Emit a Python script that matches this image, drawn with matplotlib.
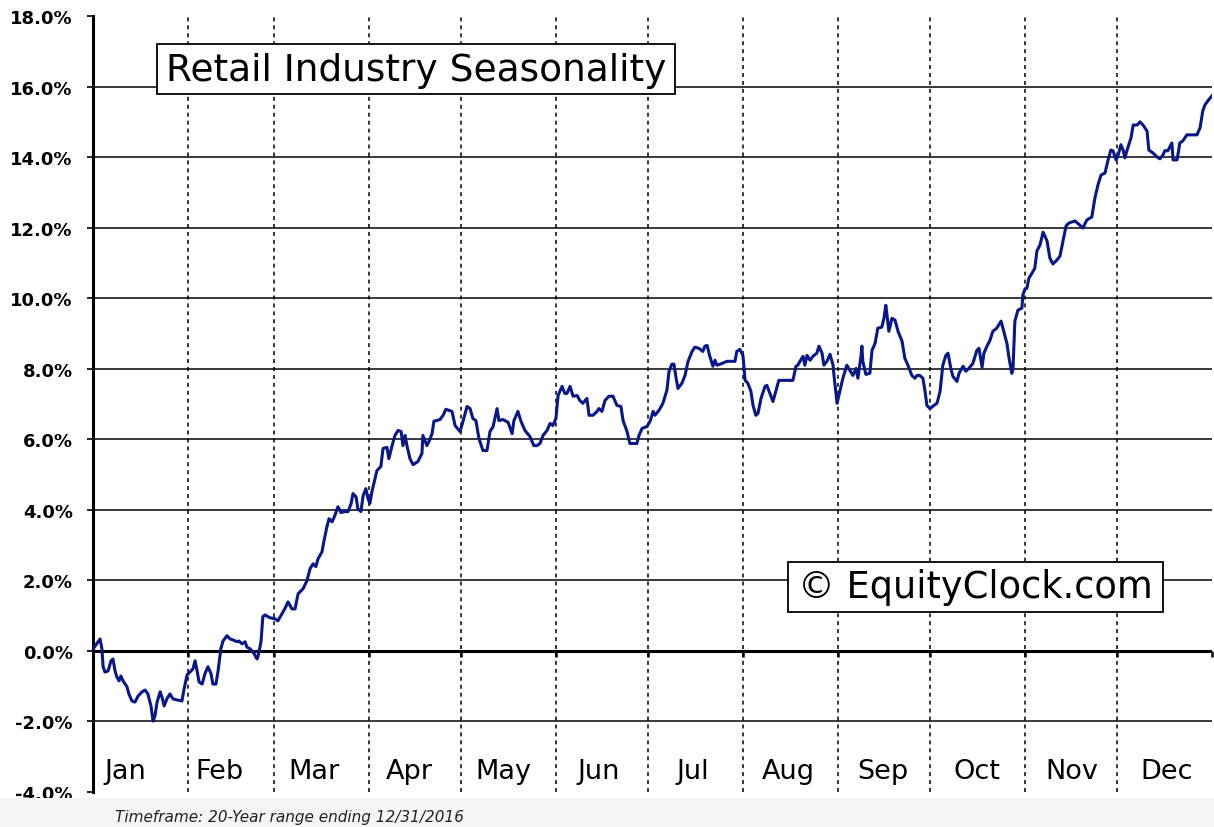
import matplotlib
matplotlib.use("Agg")
import matplotlib.pyplot as plt
from matplotlib.patches import Rectangle
import numpy as np

# ---------------- data ----------------
months = ["Jan", "Feb", "Mar", "Apr", "May", "Jun",
          "Jul", "Aug", "Sep", "Oct", "Nov", "Dec"]
month_days = [31, 28, 31, 30, 31, 30, 31, 31, 30, 31, 30, 31]

# day of year (0 = Jan 1)
day = [0, 2.3, 2.9, 3.3, 3.9, 4.9, 5.9, 6.5, 7.2, 7.8, 8.5, 9.1, 9.8, 11.1, 11.7,
       12.7, 13.7, 14.7, 16.0, 17.0, 17.9, 18.9, 19.6, 20.2, 20.9, 21.9, 22.5,
       23.2, 24.1, 25.1, 26.1, 27.4, 29.0, 29.7, 30.7, 31.6, 32.6, 33.3, 33.9,
       34.6, 35.6, 36.5, 37.5, 38.5, 39.1, 40.1, 40.8, 41.7, 42.4, 43.7, 44.7,
       45.7, 47.0, 47.6, 48.6, 49.6, 50.2, 51.2, 52.2, 53.5, 53.8, 54.8, 55.4,
       56.1, 57.7, 59.4, 60.3, 61.6, 62.6, 63.6, 64.9, 65.9, 66.9, 68.5, 69.8,
       70.8, 71.8, 72.7, 73.4, 74.7, 75.3, 76.3, 77.0, 78.0, 78.9, 79.9, 80.9,
       81.9, 83.2, 84.2, 84.8, 85.8, 86.4, 87.4, 88.1, 89.0, 89.7, 90.3, 91.0,
       92.0, 92.6, 93.9, 94.6, 95.9, 96.5, 97.5, 98.5, 99.5, 100.5, 101.1, 101.8,
       102.4, 103.4, 104.4, 106.0, 107.3, 107.6, 108.9, 109.6, 110.6, 111.2,
       113.2, 114.2, 115.1, 117.1, 118.1, 119.7, 120.7, 122.0, 123.0, 123.9,
       124.9, 125.9, 127.2, 128.5, 129.5, 130.5, 131.8, 132.4, 133.7, 135.4,
       136.7, 137.3, 138.6, 139.6, 140.9, 142.5, 143.8, 144.8, 145.8, 146.8,
       148.1, 149.1, 150.0, 151.0, 151.7, 153.0, 153.9, 154.6, 155.6, 156.6,
       157.9, 158.8, 159.8, 161.1, 161.8, 163.1, 164.4, 165.0, 166.0, 167.0,
       168.3, 169.6, 170.9, 172.2, 172.9, 174.2, 175.1, 177.4, 178.1, 179.1,
       180.7, 181.7, 182.7, 183.3, 184.6, 185.9, 187.2, 187.9, 188.8, 189.5,
       190.2, 190.8, 192.1, 193.1, 194.1, 195.4, 196.3, 197.6, 198.9, 199.6,
       200.3, 201.2, 202.2, 202.9, 203.5, 205.2, 206.8, 209.4, 210.0, 211.0,
       212.0, 212.7, 213.6, 214.6, 215.3, 216.2, 216.9, 217.9, 219.2, 219.8,
       220.8, 221.8, 222.8, 223.7, 228.3, 229.3, 229.9, 230.6, 231.6, 232.2,
       232.9, 233.9, 234.8, 236.1, 236.8, 237.8, 238.4, 239.4, 240.4, 241.4,
       241.7, 242.7, 243.6, 244.6, 245.9, 246.9, 247.9, 248.9, 249.5, 250.5,
       250.8, 251.1, 252.1, 253.4, 254.1, 255.1, 256.0, 257.3, 258.0, 258.6,
       259.0, 259.6, 260.6, 261.6, 262.6, 263.9, 264.8, 265.8, 267.1, 268.1,
       268.8, 269.7, 270.7, 271.4, 272.0, 273.0, 274.3, 275.3, 276.3, 277.2,
       278.2, 278.9, 279.8, 280.5, 281.8, 282.5, 283.8, 284.7, 285.7, 287.0,
       288.3, 289.0, 290.0, 290.6, 291.6, 292.6, 293.5, 294.8, 296.2, 296.8,
       298.1, 298.8, 299.7, 300.1, 300.7, 301.7, 303.0, 303.3, 304.0, 304.6,
       305.3, 306.3, 307.2, 307.9, 308.9, 309.9, 310.5, 311.2, 312.1, 313.1,
       314.4, 315.4, 316.4, 317.4, 318.3, 320.3, 321.9, 322.9, 324.2, 325.8,
       326.8, 327.8, 328.8, 330.1, 331.1, 332.0, 332.7, 333.7, 334.3, 335.3,
       336.0, 336.6, 337.3, 338.6, 339.3, 340.6, 341.5, 342.5, 343.8, 344.4,
       345.7, 347.0, 348.0, 349.0, 349.6, 350.6, 351.9, 352.3, 353.6, 354.5,
       355.5, 356.8, 360.1, 361.1, 362.0, 362.7, 363.7, 365.0]

# average seasonal return (%)
pct = [0.05, 0.34, 0.06, -0.45, -0.60, -0.57, -0.28, -0.23, -0.57, -0.74, -0.85,
       -0.71, -0.85, -1.02, -1.22, -1.42, -1.45, -1.28, -1.16, -1.11, -1.22, -1.56,
       -1.99, -1.85, -1.45, -1.16, -1.31, -1.56, -1.36, -1.22, -1.36, -1.39, -1.42,
       -1.08, -0.68, -0.60, -0.51, -0.28, -0.54, -0.88, -0.94, -0.65, -0.45, -0.65,
       -0.94, -0.94, -0.57, 0.06, 0.28, 0.43, 0.34, 0.31, 0.26, 0.28, 0.20, 0.26,
       0.11, 0.06, -0.03, -0.23, -0.17, 0.26, 0.97, 1.02, 0.94, 0.91, 0.85, 1.05,
       1.20, 1.39, 1.19, 1.19, 1.62, 1.76, 1.99, 2.33, 2.47, 2.39, 2.61, 2.81, 3.10,
       3.52, 3.75, 3.66, 3.84, 4.09, 3.92, 3.95, 3.95, 4.18, 4.46, 4.37, 4.03, 3.95,
       4.40, 4.60, 4.32, 4.18, 4.52, 4.89, 5.11, 5.23, 5.74, 5.77, 5.45, 5.80, 6.11,
       6.25, 6.22, 5.82, 6.11, 5.82, 5.45, 5.28, 5.37, 5.60, 6.11, 5.82, 5.94, 6.16,
       6.51, 6.56, 6.68, 6.85, 6.79, 6.39, 6.22, 6.51, 6.93, 6.87, 6.59, 6.53, 6.02,
       5.68, 5.68, 6.22, 6.36, 6.87, 6.53, 6.56, 6.48, 6.16, 6.53, 6.79, 6.51, 6.25,
       6.08, 5.82, 5.82, 5.88, 6.11, 6.25, 6.45, 6.39, 6.59, 7.24, 7.50, 7.30, 7.30,
       7.50, 7.22, 7.24, 7.10, 7.02, 7.16, 6.68, 6.68, 6.79, 6.87, 6.79, 7.10, 7.22,
       7.22, 6.96, 6.93, 6.53, 6.22, 5.88, 5.88, 6.11, 6.31, 6.36, 6.51, 6.79, 6.68,
       6.82, 7.02, 7.39, 7.93, 8.13, 8.13, 7.73, 7.44, 7.59, 7.81, 8.21, 8.49, 8.61,
       8.58, 8.49, 8.64, 8.66, 8.35, 8.07, 8.24, 8.10, 8.15, 8.21, 8.21, 8.49, 8.55,
       8.38, 7.67, 7.59, 7.36, 6.96, 6.68, 6.73, 7.16, 7.50, 7.53, 7.30, 7.07, 7.39,
       7.67, 7.67, 8.07, 8.10, 8.21, 8.35, 8.10, 8.38, 8.24, 8.35, 8.44, 8.64, 8.44,
       8.10, 8.21, 8.41, 8.10, 7.81, 7.02, 7.36, 7.73, 8.10, 7.95, 7.81, 8.01, 7.73,
       8.35, 8.64, 8.21, 7.84, 7.87, 8.52, 8.72, 9.15, 9.18, 9.43, 9.80, 9.52, 9.06,
       9.43, 9.38, 9.06, 8.78, 8.30, 8.10, 7.81, 7.73, 7.81, 7.81, 7.73, 7.36, 6.96,
       6.87, 6.96, 7.02, 7.36, 8.10, 8.38, 8.44, 8.01, 7.78, 7.64, 7.87, 8.07, 7.93,
       8.01, 8.15, 8.52, 8.58, 8.04, 8.44, 8.64, 8.81, 9.06, 9.15, 9.35, 9.15, 8.72,
       8.30, 7.87, 8.01, 9.35, 9.66, 9.72, 10.09, 10.26, 10.28, 10.57, 10.71, 10.85,
       11.34, 11.51, 11.87, 11.76, 11.62, 11.14, 10.97, 11.08, 11.19, 11.62, 12.05,
       12.13, 12.19, 12.07, 11.99, 12.22, 12.30, 12.84, 13.21, 13.49, 13.55, 13.92,
       14.20, 14.18, 13.92, 14.03, 14.35, 14.20, 13.98, 14.20, 14.55, 14.91, 14.91,
       15.00, 14.91, 14.74, 14.20, 14.12, 14.01, 13.95, 14.06, 14.18, 14.18, 14.40,
       13.92, 13.92, 14.40, 14.46, 14.63, 14.63, 14.83, 15.31, 15.48, 15.60, 15.74]

y_ticks = [-4, -2, 0, 2, 4, 6, 8, 10, 12, 14, 16, 18]
y_tick_labels = [f"{v:.1f}%" for v in y_ticks]

title_text = "Retail Industry Seasonality"
brand_text = "\u00a9 EquityClock.com"
footer_text = "Timeframe: 20-Year range ending 12/31/2016"

# ---------------- figure ----------------
W, H = 1214, 828
fig = plt.figure(figsize=(W / 100, H / 100), dpi=100)
fig.patch.set_facecolor("white")
fig.patches.append(Rectangle((0, 0), 1, 29 / H, transform=fig.transFigure,
                             facecolor="#f5f5f5", edgecolor="none", zorder=0))

ax = fig.add_axes([93 / W, 1 - 793 / H, 1119 / W, 776 / H])
ax.set_facecolor("white")
ax.set_xlim(0, 365)
ax.set_ylim(-4, 18)

for s in ["top", "right", "bottom"]:
    ax.spines[s].set_visible(False)
ax.spines["left"].set_linewidth(2.2)
ax.spines["left"].set_color("black")

# horizontal grid
for v in y_ticks:
    if v in (-4, 18):
        continue
    if v == 0:
        ax.axhline(0, color="black", lw=2.2, zorder=2)
    else:
        ax.axhline(v, color="#2a2a2a", lw=1.3, zorder=1)

# month boundaries
bounds = np.cumsum([0] + month_days)
for b in bounds[1:-1]:
    ax.axvline(b, color="black", lw=1.1, linestyle=(0, (2.6, 2.6)), zorder=1)
for b in bounds[1:]:
    ax.plot([b, b], [0, -0.17], color="black", lw=1.8, zorder=2,
            solid_capstyle="butt", clip_on=False)

# month labels (evenly spaced)
for i, m in enumerate(months):
    xc = (32 + 94.7 * i) / 1119
    ax.text(xc, (793 - 772) / 776, m, transform=ax.transAxes,
            ha="center", va="center", fontsize=19.5, color="black")

# data line
ax.plot(day, pct, color="#08188a", lw=2.2, zorder=4, solid_joinstyle="round")

# y ticks
ax.set_yticks(y_ticks)
ax.set_yticklabels(y_tick_labels, fontsize=13, fontweight="bold")
ax.tick_params(axis="y", direction="out", length=4.5, width=1.2, pad=10,
               colors="black")
ax.set_xticks([])

# title box
ax.add_patch(Rectangle(((157 - 93) / 1119, (793 - 95) / 776), 518 / 1119, 50 / 776,
                       transform=ax.transAxes, facecolor="white",
                       edgecolor="black", lw=1.3, zorder=5))
ax.text((416 - 93) / 1119, (793 - 71) / 776, title_text, transform=ax.transAxes,
        ha="center", va="center", fontsize=27, zorder=6)

# brand box
ax.add_patch(Rectangle(((788 - 93) / 1119, (793 - 613) / 776), 375 / 1119, 50 / 776,
                       transform=ax.transAxes, facecolor="white",
                       edgecolor="black", lw=1.3, zorder=5))
ax.text((975.5 - 93) / 1119, (793 - 588) / 776, brand_text, transform=ax.transAxes,
        ha="center", va="center", fontsize=26.5, zorder=6)

fig.text(115 / W, 1 - 818 / H, footer_text, ha="left", va="center",
         fontsize=11, fontstyle="italic", color="#222222")

fig.savefig("out.png", dpi=100, facecolor=fig.get_facecolor())
